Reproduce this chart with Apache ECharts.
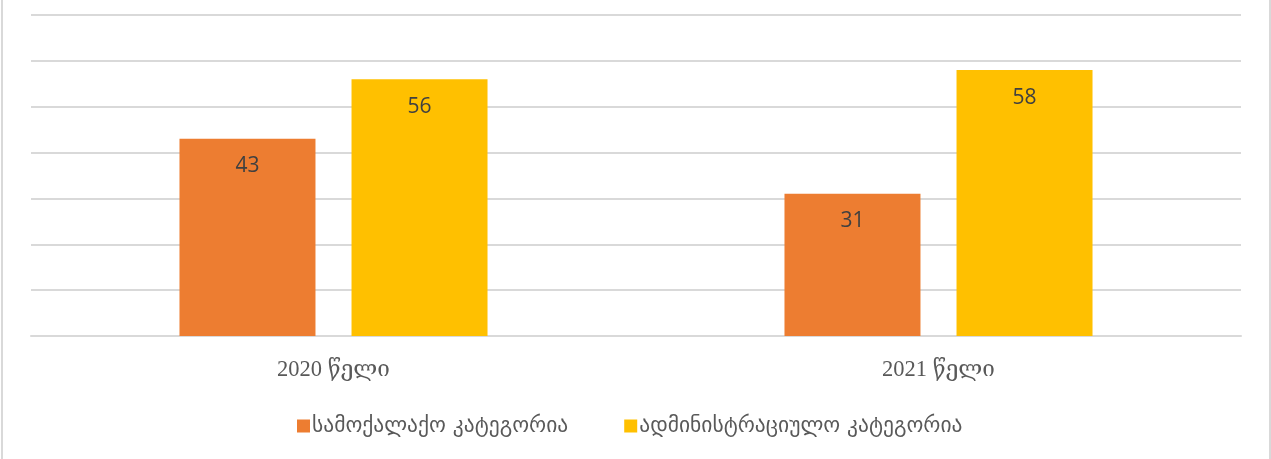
<!DOCTYPE html>
<html><head><meta charset="utf-8">
<script src="https://cdn.jsdelivr.net/npm/echarts@6/dist/echarts.min.js"></script>
<style>html,body{margin:0;padding:0;background:#fff}#c{width:1271px;height:459px}</style>
</head><body><div id="c"></div>
<script>
const categories = ['2020 წელი', '2021 წელი'];
const seriesNames = ['სამოქალაქო კატეგორია', 'ადმინისტრაციულო კატეგორია'];
const civilValues = [43, 31];
const adminValues = [56, 58];

const chart = echarts.init(document.getElementById('c'), null, {renderer: 'canvas'});
const labelCfg = {show: true, position: 'insideTop', distance: 17, color: '#404040', fontSize: 21, fontFamily: 'Open Sans, Noto Sans, sans-serif'};
chart.setOption({
  animation: false,
  backgroundColor: '#fff',
  grid: {left: 31, right: 30, top: 15, bottom: 123, containLabel: false},
  legend: {
    bottom: 17, left: 292, itemWidth: 13, itemHeight: 13, itemGap: 56,
    icon: 'rect',
    textStyle: {color: '#595959', fontSize: 21.5, fontFamily: 'DejaVu Sans, Noto Sans, sans-serif', padding: [0,0,0,-3]},
    data: seriesNames
  },
  xAxis: {
    type: 'category', data: categories,
    axisLine: {lineStyle: {color: '#d9d9d9', width: 2}},
    axisTick: {show: false},
    axisLabel: {color: '#595959', fontSize: 22.5, margin: 23, fontFamily: 'Liberation Serif, DejaVu Serif, serif'}
  },
  yAxis: {
    type: 'value', min: 0, max: 70, interval: 10,
    axisLabel: {show: false}, axisLine: {show: false}, axisTick: {show: false},
    splitLine: {lineStyle: {color: '#d9d9d9', width: 2}}
  },
  series: [
    {name: seriesNames[0], type: 'bar', data: civilValues, barWidth: 136, barGap: '26.5%', itemStyle: {color: '#ed7d31'}, label: labelCfg},
    {name: seriesNames[1], type: 'bar', data: adminValues, barWidth: 136, itemStyle: {color: '#ffc000'}, label: labelCfg}
  ],
  graphic: [
    {type: 'line', shape: {x1: 2, y1: 0, x2: 2, y2: 459}, style: {stroke: '#d9d9d9', lineWidth: 2}},
    {type: 'line', shape: {x1: 1270, y1: 0, x2: 1270, y2: 459}, style: {stroke: '#d9d9d9', lineWidth: 2}}
  ]
});
</script></body></html>
